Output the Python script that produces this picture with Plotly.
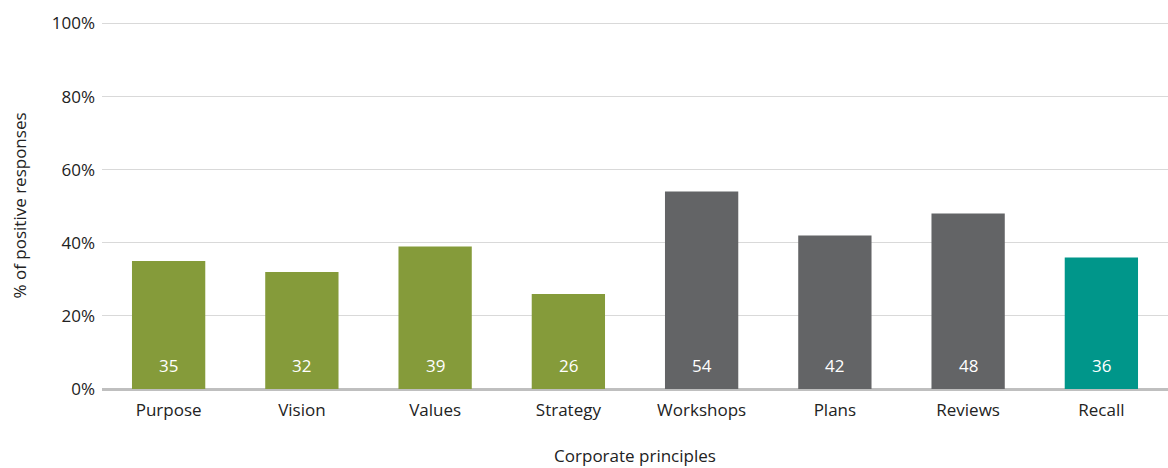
import plotly.graph_objects as go

# Survey results by corporate principle
categories = ["Purpose", "Vision", "Values", "Strategy", "Workshops", "Plans", "Reviews", "Recall"]
values = [35, 32, 39, 26, 54, 42, 48, 36]
groups = ["principle", "principle", "principle", "principle",
          "practice", "practice", "practice", "outcome"]
y_ticks = [0, 20, 40, 60, 80, 100]
y_tick_labels = ["0%", "20%", "40%", "60%", "80%", "100%"]

palette = {"principle": "#859B3A", "practice": "#636466", "outcome": "#00968A"}
colors = [palette[g] for g in groups]

FONT = "'Open Sans', Lato, sans-serif"
TEXT = "#222222"

fig = go.Figure(
    go.Bar(
        x=categories,
        y=values,
        marker=dict(color=colors, line=dict(width=0)),
        hoverinfo="x+y",
    )
)

# value labels sitting at the base of each bar
for cat, v in zip(categories, values):
    fig.add_annotation(
        x=cat, y=0, text=str(v), showarrow=False,
        yanchor="bottom", yshift=10,
        font=dict(family=FONT, size=17, color="white"),
    )

fig.update_layout(
    width=1168, height=468,
    margin=dict(l=102, r=0, t=22, b=79),
    paper_bgcolor="white", plot_bgcolor="white",
    bargap=0.45,
    showlegend=False,
    font=dict(family=FONT, size=17, color=TEXT),
)

fig.update_xaxes(
    showgrid=False, showline=False, zeroline=False,
    ticks="", ticklabelstandoff=9,
    tickfont=dict(family=FONT, size=17, color=TEXT),
    title=dict(text="Corporate principles", standoff=30,
               font=dict(family=FONT, size=17, color=TEXT)),
)

fig.update_yaxes(
    range=[0, 100.4], tickvals=y_ticks, ticktext=y_tick_labels,
    showgrid=True, gridcolor="#D9D9D9", gridwidth=1,
    zeroline=True, zerolinecolor="#BFBFBF", zerolinewidth=3,
    showline=False, ticks="", ticklabelstandoff=6,
    tickfont=dict(family=FONT, size=17, color=TEXT),
    title=dict(text="% of positive responses", standoff=20,
               font=dict(family=FONT, size=17, color=TEXT)),
)

fig.write_html("out.html")
